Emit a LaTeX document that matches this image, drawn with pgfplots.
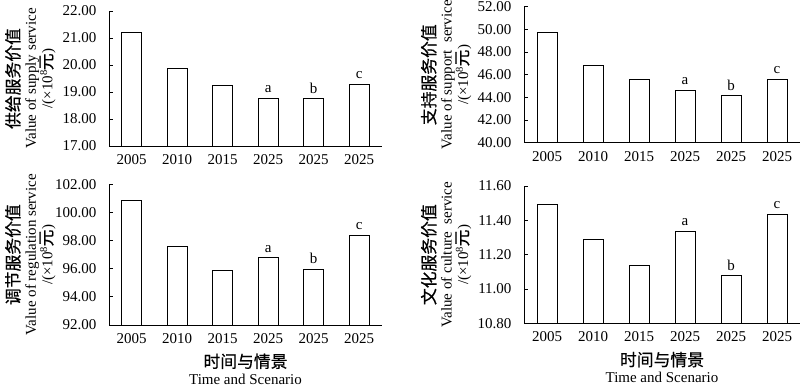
\documentclass[border=0pt]{standalone}
\usepackage{fontspec}
\setmainfont{Liberation Serif}
\newfontfamily\cjk[Scale=1.12, FakeBold=0.6]{Noto Sans CJK SC}
\usepackage{pgfplots}
\pgfplotsset{compat=1.18}
\pgfplotsset{
  panel/.style={
    scale only axis,
    anchor=south west,
    xmin=-0.5, xmax=5.5,
    xtick={0,1,2,3,4,5},
    xticklabels={2005,2010,2015,2025,2025,2025},
    axis x line*=bottom, axis y line*=left,
    axis line style={line width=0.9pt, -},
    tick align=inside,
    major tick length=4pt,
    xtick style={draw=none},
    ytick style={line width=0.9pt, black},
    /pgf/number format/assume math mode=true,
    yticklabel style={/pgf/number format/fixed, /pgf/number format/fixed zerofill, /pgf/number format/precision=2, xshift=-9pt},
    xticklabel style={yshift=-5pt},
    ticklabel style={font=\fontsize{15}{17}\selectfont},
    scaled y ticks=false,
    ylabel style={anchor=south, align=center, font=\fontsize{15}{16.5}\selectfont},
    xlabel style={at={(axis description cs:0.5,0)}, anchor=north, align=center, yshift=-25pt, font=\fontsize{15}{17}\selectfont},
  },
  bars/.style={ybar, bar width=20pt, draw=black, fill=white, line width=0.9pt},
  lbl/.style={draw=none, mark=none, nodes near coords, point meta=explicit symbolic,
    nodes near coords style={anchor=south, yshift=2pt, font=\fontsize{15}{17}\selectfont}},
}
\begin{document}
\begin{tikzpicture}
\useasboundingbox (0,0) rectangle (800pt,388pt);
% top left
\begin{axis}[panel, at={(109pt,242pt)}, width=273pt, height=135pt,
  ymin=17, ymax=22, ytick={17,18,19,20,21,22},
  ylabel style={at={(axis description cs:-0.183,0.5)}},
  ylabel={{\cjk 供给服务价值}\\Value of supply service\\/(×10\textsuperscript{8}{\cjk 元})}]
\addplot[bars] coordinates {(0,21.21) (1,19.86) (2,19.25) (3,18.77) (4,18.75) (5,19.28)};
\addplot[lbl] coordinates {(3,18.77)[a] (4,18.75)[b] (5,19.28)[c]};
\end{axis}
% top right
\begin{axis}[panel, at={(524pt,245.3pt)}, width=276pt, height=136pt,
  ymin=40, ymax=52, ytick={40,42,44,46,48,50,52},
  ylabel style={at={(axis description cs:-0.178,0.5)}},
  ylabel={{\cjk 支持服务价值}\\Value of support\ \ service\\/(×10\textsuperscript{8}{\cjk 元})}]
\addplot[bars] coordinates {(0,49.70) (1,46.85) (2,45.59) (3,44.62) (4,44.14) (5,45.62)};
\addplot[lbl] coordinates {(3,44.62)[a] (4,44.14)[b] (5,45.62)[c]};
\end{axis}
% bottom left
\begin{axis}[panel, at={(109pt,63pt)}, width=273pt, height=140.7pt,
  ymin=92, ymax=102, ytick={92,94,96,98,100,102},
  ylabel style={at={(axis description cs:-0.183,0.5)}},
  ylabel={{\cjk 调节服务价值}\\Value of regulation service\\/(×10\textsuperscript{8}{\cjk 元})},
  xlabel={{\cjk 时间与情景}\\Time and Scenario}]
\addplot[bars] coordinates {(0,100.88) (1,97.59) (2,95.86) (3,96.78) (4,95.98) (5,98.40)};
\addplot[lbl] coordinates {(3,96.78)[a] (4,95.98)[b] (5,98.40)[c]};
\end{axis}
% bottom right
\begin{axis}[panel, at={(524pt,64.7pt)}, width=276pt, height=137.3pt,
  ymin=10.8, ymax=11.6, ytick={10.8,11,11.2,11.4,11.6},
  ylabel style={at={(axis description cs:-0.178,0.5)}},
  ylabel={{\cjk 文化服务价值}\\Value of culture\ \ service\\/(×10\textsuperscript{8}{\cjk 元})},
  xlabel={{\cjk 时间与情景}\\Time and Scenario}]
\addplot[bars] coordinates {(0,11.495) (1,11.286) (2,11.136) (3,11.338) (4,11.076) (5,11.437)};
\addplot[lbl] coordinates {(3,11.338)[a] (4,11.076)[b] (5,11.437)[c]};
\end{axis}
\end{tikzpicture}
\end{document}
